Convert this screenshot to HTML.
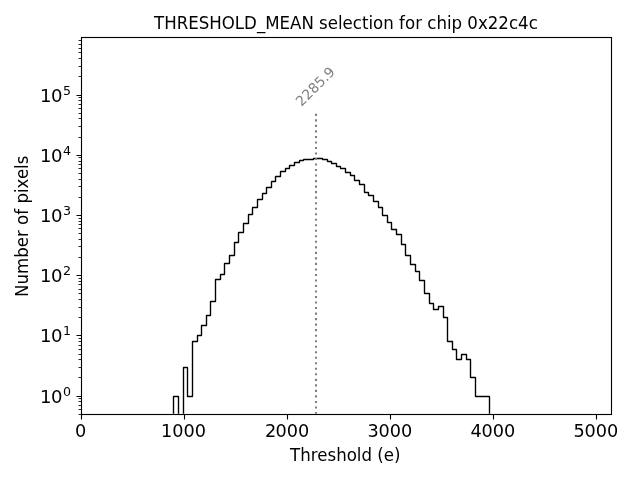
<!DOCTYPE html>
<html lang="en"><head><meta charset="utf-8"><title>THRESHOLD_MEAN selection for chip 0x22c4c</title>
<style>html,body{margin:0;padding:0;background:#fff;overflow:hidden}svg{display:block}text{font-family:"DejaVu Sans","Liberation Sans",sans-serif;fill:#000}</style></head><body>
<svg width="640" height="480" viewBox="0 0 640 480">
<rect width="640" height="480" fill="#fff"/>
<defs><clipPath id="ax"><rect x="80.75" y="37.33" width="530.68" height="376.39"/></clipPath></defs>
<g clip-path="url(#ax)"><path d="M81.5 430.5 L173.5 430.5 L173.5 396.5 L178.5 396.5 L178.5 430.5 L183.5 430.5 L183.5 367.5 L187.5 367.5 L187.5 396.5 L192.5 396.5 L192.5 341.5 L197.5 341.5 L197.5 335.5 L201.5 335.5 L201.5 325.5 L206.5 325.5 L206.5 315.5 L210.5 315.5 L210.5 301.5 L215.5 301.5 L215.5 279.5 L220.5 279.5 L220.5 274.5 L224.5 274.5 L224.5 263.5 L229.5 263.5 L229.5 255.5 L234.5 255.5 L234.5 242.5 L238.5 242.5 L238.5 232.5 L243.5 232.5 L243.5 223.5 L248.5 223.5 L248.5 214.5 L252.5 214.5 L252.5 207.5 L257.5 207.5 L257.5 199.5 L262.5 199.5 L262.5 193.5 L266.5 193.5 L266.5 187.5 L271.5 187.5 L271.5 181.5 L275.5 181.5 L275.5 176.5 L280.5 176.5 L280.5 171.5 L285.5 171.5 L285.5 168.5 L289.5 168.5 L289.5 165.5 L294.5 165.5 L294.5 162.5 L299.5 162.5 L299.5 160.5 L303.5 160.5 L303.5 159.5 L313.5 159.5 L313.5 158.5 L322.5 158.5 L322.5 159.5 L327.5 159.5 L327.5 161.5 L331.5 161.5 L331.5 163.5 L336.5 163.5 L336.5 166.5 L340.5 166.5 L340.5 168.5 L345.5 168.5 L345.5 172.5 L350.5 172.5 L350.5 175.5 L354.5 175.5 L354.5 180.5 L359.5 180.5 L359.5 184.5 L364.5 184.5 L364.5 192.5 L368.5 192.5 L368.5 195.5 L373.5 195.5 L373.5 201.5 L378.5 201.5 L378.5 207.5 L382.5 207.5 L382.5 215.5 L387.5 215.5 L387.5 222.5 L391.5 222.5 L391.5 229.5 L396.5 229.5 L396.5 234.5 L401.5 234.5 L401.5 244.5 L405.5 244.5 L405.5 255.5 L410.5 255.5 L410.5 264.5 L415.5 264.5 L415.5 271.5 L419.5 271.5 L419.5 280.5 L424.5 280.5 L424.5 293.5 L429.5 293.5 L429.5 303.5 L433.5 303.5 L433.5 309.5 L438.5 309.5 L438.5 306.5 L443.5 306.5 L443.5 317.5 L447.5 317.5 L447.5 341.5 L452.5 341.5 L452.5 349.5 L456.5 349.5 L456.5 359.5 L461.5 359.5 L461.5 354.5 L466.5 354.5 L466.5 359.5 L470.5 359.5 L470.5 377.5 L475.5 377.5 L475.5 396.5 L489.5 396.5 L489.5 430.5 L586.5 430.5" fill="none" stroke="#000" stroke-width="1.389" stroke-linejoin="bevel" stroke-linecap="butt"/>
<path d="M316 414 L316 113" fill="none" stroke="#808080" stroke-width="2.083" stroke-dasharray="2.083 3.4375"/></g>
<path d="M81.5 414.5V419.5M184.5 414.5V419.5M287.5 414.5V419.5M390.5 414.5V419.5M493.5 414.5V419.5M596.5 414.5V419.5M76.5 396.5H81.5M76.5 335.5H81.5M76.5 275.5H81.5M76.5 215.5H81.5M76.5 155.5H81.5M76.5 95.5H81.5" stroke="#000" stroke-width="1.111" fill="none"/>
<path d="M78.5 414.5H81.5M78.5 409.5H81.5M78.5 405.5H81.5M78.5 401.5H81.5M78.5 398.5H81.5M78.5 377.5H81.5M78.5 367.5H81.5M78.5 359.5H81.5M78.5 354.5H81.5M78.5 349.5H81.5M78.5 345.5H81.5M78.5 341.5H81.5M78.5 338.5H81.5M78.5 317.5H81.5M78.5 307.5H81.5M78.5 299.5H81.5M78.5 293.5H81.5M78.5 289.5H81.5M78.5 284.5H81.5M78.5 281.5H81.5M78.5 278.5H81.5M78.5 257.5H81.5M78.5 246.5H81.5M78.5 239.5H81.5M78.5 233.5H81.5M78.5 228.5H81.5M78.5 224.5H81.5M78.5 221.5H81.5M78.5 218.5H81.5M78.5 197.5H81.5M78.5 186.5H81.5M78.5 179.5H81.5M78.5 173.5H81.5M78.5 168.5H81.5M78.5 164.5H81.5M78.5 161.5H81.5M78.5 157.5H81.5M78.5 137.5H81.5M78.5 126.5H81.5M78.5 118.5H81.5M78.5 113.5H81.5M78.5 108.5H81.5M78.5 104.5H81.5M78.5 100.5H81.5M78.5 97.5H81.5M78.5 76.5H81.5M78.5 66.5H81.5M78.5 58.5H81.5M78.5 52.5H81.5M78.5 48.5H81.5M78.5 44.5H81.5M78.5 40.5H81.5" stroke="#000" stroke-width="0.833" fill="none"/>
<rect x="81.5" y="37.5" width="530.0" height="377.0" fill="none" stroke="#000" stroke-width="1.111"/>
<text transform="translate(80.65 436.50) scale(0.981 1)" font-size="18.056" text-anchor="middle">0</text>
<text transform="translate(183.49 436.50) scale(0.981 1)" font-size="18.056" text-anchor="middle">1000</text>
<text transform="translate(286.53 436.50) scale(0.981 1)" font-size="18.056" text-anchor="middle" dx="0.6 -0.6">2000</text>
<text transform="translate(389.57 436.50) scale(0.981 1)" font-size="18.056" text-anchor="middle" dx="0.3 -0.3">3000</text>
<text transform="translate(492.61 436.50) scale(0.981 1)" font-size="18.056" text-anchor="middle" dx="0.3 -0.3">4000</text>
<text transform="translate(595.65 436.50) scale(0.981 1)" font-size="18.056" text-anchor="middle" dx="0.3 -0.3">5000</text>
<text transform="translate(39.50 402.55) scale(1 1.02)" font-size="18.056" text-anchor="start" dx="0.4 -0.4">10<tspan font-size="12.639" dx="0.6" dy="-6.9">0</tspan></text>
<text transform="translate(39.50 341.55) scale(1 1.02)" font-size="18.056" text-anchor="start" dx="0.4 -0.4">10<tspan font-size="12.639" dx="0.6" dy="-6.9">1</tspan></text>
<text transform="translate(39.50 281.55) scale(1 1.02)" font-size="18.056" text-anchor="start" dx="0.4 -0.4">10<tspan font-size="12.639" dx="0.6" dy="-6.9">2</tspan></text>
<text transform="translate(39.50 221.55) scale(1 1.02)" font-size="18.056" text-anchor="start" dx="0.4 -0.4">10<tspan font-size="12.639" dx="0.6" dy="-6.9">3</tspan></text>
<text transform="translate(39.50 161.55) scale(1 1.02)" font-size="18.056" text-anchor="start" dx="0.4 -0.4">10<tspan font-size="12.639" dx="0.6" dy="-6.9">4</tspan></text>
<text transform="translate(39.50 101.55) scale(1 1.02)" font-size="18.056" text-anchor="start" dx="0.4 -0.4">10<tspan font-size="12.639" dx="0.6" dy="-6.9">5</tspan></text>
<text transform="translate(345.89 28.70) scale(0.998 1.11)" font-size="16.667" text-anchor="middle">THRESHOLD_MEAN selection for chip 0x22c4c</text>
<text transform="translate(345.29 460.70) scale(0.998 1.11)" font-size="16.667" text-anchor="middle">Threshold (e)</text>
<text transform="translate(27.70 226.28) rotate(-90) scale(0.998 1.11)" font-size="16.667" text-anchor="middle">Number of pixels</text>
<text transform="translate(318.70 89.90) rotate(-45)" font-size="13.889" text-anchor="middle" style="fill:#808080">2285.9</text>
</svg></body></html>
